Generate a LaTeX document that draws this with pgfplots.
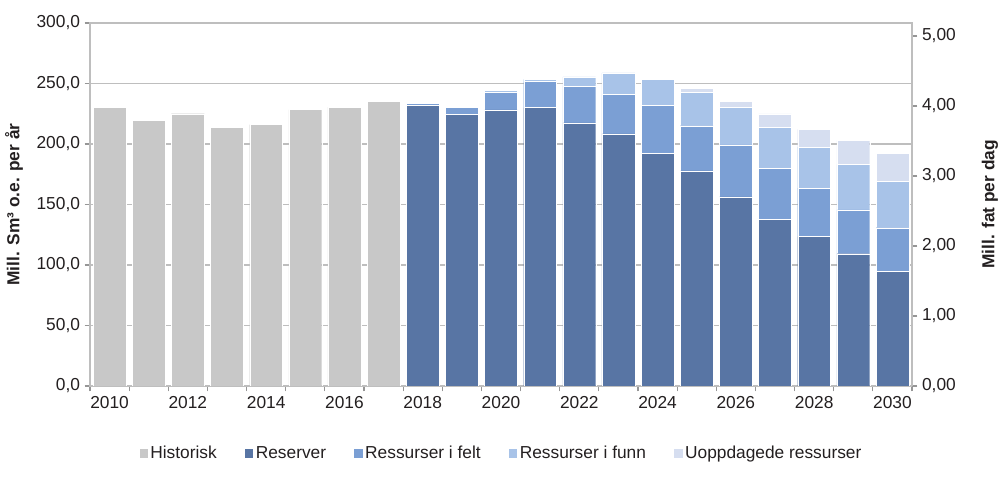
\documentclass[border=0pt]{standalone}
\usepackage{pgfplots}
\pgfplotsset{compat=1.18}
\usepackage{pgfplotstable}
\usepackage{fontspec}
\setmainfont{Liberation Sans}

\definecolor{hist}{RGB}{200,200,200}
\definecolor{res}{RGB}{88,117,164}
\definecolor{felt}{RGB}{123,159,212}
\definecolor{funn}{RGB}{168,195,232}
\definecolor{uopp}{RGB}{214,222,240}
\definecolor{gridc}{RGB}{190,190,190}
\definecolor{tickc}{RGB}{150,150,150}
\definecolor{txt}{RGB}{35,31,32}

% mill. Sm3 o.e. per year
\pgfplotstableread{
year hist res   felt funn uopp
2010 230  0     0    0    0
2011 219.5 0    0    0    0
2012 225  0     0    0    0
2013 214  0     0    0    0
2014 216  0     0    0    0
2015 228.5 0    0    0    0
2016 230.5 0    0    0    0
2017 235.5 0    0    0    0
2018 0    231.7 1.9  0    0
2019 0    224.5 5.5  0    0
2020 0    228.1 14.3 1.9  0
2021 0    230.0 21.5 1.9  0
2022 0    217.4 30.3 7.7  0
2023 0    208.3 32.5 17.9 0
2024 0    192.0 39.7 21.7 0
2025 0    177.7 37.4 27.3 3.6
2026 0    156.2 43.0 30.8 5.5
2027 0    138.0 41.6 34.2 11.0
2028 0    123.7 39.9 33.9 14.6
2029 0    109.3 36.2 37.7 19.8
2030 0    95.0  35.8 38.1 23.4
}\data

\begin{document}
\begin{tikzpicture}
\pgfplotsset{
  every axis/.append style={
    scale only axis, width=616.5pt, height=272.25pt,
    xmin=2009.5, xmax=2030.5,
    font=\fontsize{13}{15}\selectfont, text=txt,
    tick align=outside,
    major tick length=4pt,
    tick style={tickc, line width=0.8pt},
    axis line style={gridc, line width=0.8pt},
  },
}
\begin{axis}[
  ybar stacked, bar width=0.84,
  ymin=0, ymax=300,
  ytick={0,50,...,300},
  ytick pos=left, xtick pos=bottom,
  xtick={2009.5,2010.5,...,2030.5},
  xticklabels={},
  extra x ticks={2010,2012,...,2030},
  extra x tick labels={2010,2012,2014,2016,2018,2020,2022,2024,2026,2028,2030},
  extra x tick style={tick style={draw=none}},
  ymajorgrids, grid style={gridc, line width=0.8pt},
  y tick label style={/pgf/number format/.cd, fixed, fixed zerofill, precision=1, use comma, assume math mode=true},
  ylabel={\bfseries Mill. Sm³ o.e. per år},
  ylabel style={at={(axis description cs:-0.0925,0.5)}, rotate=0, anchor=center},
  legend columns=5,
  legend style={at={(0.5,-0.15)}, anchor=north, draw=none, fill=none,
    font=\fontsize{13}{15}\selectfont,
    /tikz/every even column/.append style={column sep=19pt},
    nodes={inner xsep=1.5pt}},
  legend image code/.code={\fill[#1] (0pt,-3.5pt) rectangle (7pt,3.8pt);},
]
\coordinate (O) at (rel axis cs:0,0);
\coordinate (T) at (rel axis cs:1,1);
\addplot[fill=hist, draw=white, line width=0.3pt] table[x=year, y=hist] {\data};
\addplot[fill=res, draw=white, line width=0.3pt] table[x=year, y=res] {\data};
\addplot[fill=felt, draw=white, line width=0.3pt] table[x=year, y=felt] {\data};
\addplot[fill=funn, draw=white, line width=0.3pt] table[x=year, y=funn] {\data};
\addplot[fill=uopp, draw=white, line width=0.3pt] table[x=year, y=uopp] {\data};
\legend{Historisk, Reserver, Ressurser i felt, Ressurser i funn, Uoppdagede ressurser}
\end{axis}
\begin{axis}[
  ymin=0, ymax=5.186,
  axis x line=none, axis y line*=right,
  ytick={0,1,...,5},
  y tick label style={/pgf/number format/.cd, fixed, fixed zerofill, precision=2, use comma, assume math mode=true},
  ylabel={\bfseries Mill. fat per dag},
  ylabel style={at={(axis description cs:1.0949,0.5)}, anchor=center},
]
\end{axis}
\pgfresetboundingbox
\path ([xshift=-67.5pt,yshift=-69.75pt]O) rectangle ([xshift=66pt,yshift=17.25pt]T);
\end{tikzpicture}
\end{document}
